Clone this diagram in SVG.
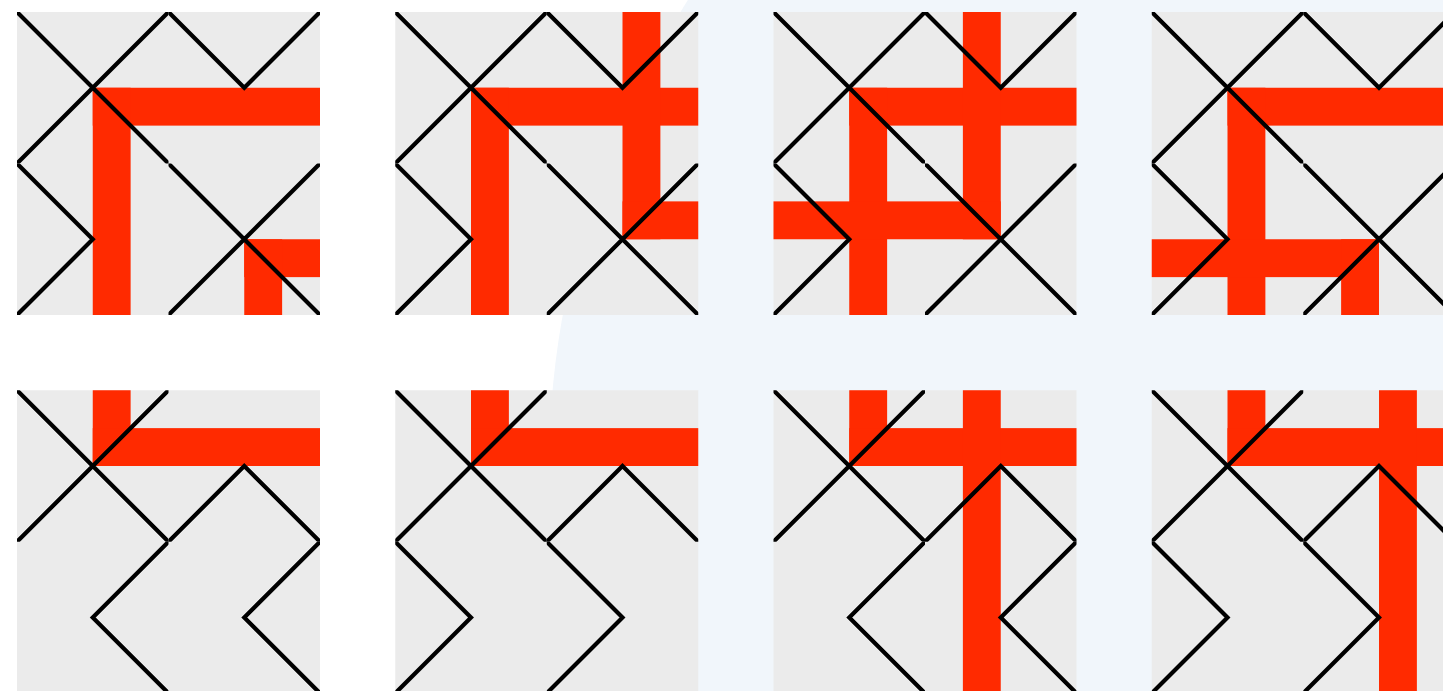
<svg xmlns="http://www.w3.org/2000/svg" width="1443" height="691" viewBox="0 0 1443 691">
<style>
.bg{fill:#ebebeb}
.red rect,.rd rect{fill:#ff2a00}
.ln{fill:none;stroke:#000;stroke-width:4.2;stroke-linecap:square;stroke-linejoin:miter}
</style>
<defs>
<symbol id="sX" viewBox="0 0 151.5 151.5" overflow="hidden"><path class="ln" d="M0 0L151.5 151.5M151.5 0L0 151.5"/></symbol>
<symbol id="sV" viewBox="0 0 151.5 151.5" overflow="hidden"><path class="ln" d="M0 0L75.75 75.75L151.5 0"/></symbol>
<symbol id="sA" viewBox="0 0 151.5 151.5" overflow="hidden"><path class="ln" d="M0 151.5L75.75 75.75L151.5 151.5"/></symbol>
<symbol id="sL" viewBox="0 0 151.5 151.5" overflow="hidden"><path class="ln" d="M0 0L75.75 75.75L0 151.5"/></symbol>
<symbol id="sR" viewBox="0 0 151.5 151.5" overflow="hidden"><path class="ln" d="M151.5 0L75.75 75.75L151.5 151.5"/></symbol>
<g id="rA" class="rd">
<rect x="75.75" y="75.75" width="227.25" height="37.875"/>
<rect x="75.75" y="75.75" width="37.875" height="227.25"/>
</g>
<g id="rB" class="rd">
<rect x="75.75" y="0" width="37.875" height="75.75"/>
<rect x="75.75" y="37.875" width="227.25" height="37.875"/>
</g>
<rect id="bgT" class="bg" width="303" height="303"/>
</defs>
<rect width="1443" height="691" fill="#ffffff"/>
<circle cx="1407" cy="468" r="858" fill="#f1f6fb"/>

<g id="tile-1" transform="translate(17 12)">
<use href="#bgT"/>
<g class="red"><use href="#rA"/>
<rect x="227.25" y="227.25" width="75.75" height="37.875"/>
<rect x="227.25" y="227.25" width="37.875" height="75.75"/></g>
<use href="#sX" x="0" y="0" width="151.5" height="151.5"/>
<use href="#sV" x="151.5" y="0" width="151.5" height="151.5"/>
<use href="#sL" x="0" y="151.5" width="151.5" height="151.5"/>
<use href="#sX" x="151.5" y="151.5" width="151.5" height="151.5"/>
</g>

<g id="tile-2" transform="translate(395.25 12)">
<use href="#bgT"/>
<g class="red"><use href="#rA"/>
<rect x="227.25" y="0" width="37.875" height="227.25"/>
<rect x="227.25" y="189.375" width="75.75" height="37.875"/></g>
<use href="#sX" x="0" y="0" width="151.5" height="151.5"/>
<use href="#sV" x="151.5" y="0" width="151.5" height="151.5"/>
<use href="#sL" x="0" y="151.5" width="151.5" height="151.5"/>
<use href="#sX" x="151.5" y="151.5" width="151.5" height="151.5"/>
</g>

<g id="tile-3" transform="translate(773.5 12)">
<use href="#bgT"/>
<g class="red"><use href="#rA"/>
<rect x="189.375" y="0" width="37.875" height="227.25"/>
<rect x="0" y="189.375" width="227.25" height="37.875"/></g>
<use href="#sX" x="0" y="0" width="151.5" height="151.5"/>
<use href="#sV" x="151.5" y="0" width="151.5" height="151.5"/>
<use href="#sL" x="0" y="151.5" width="151.5" height="151.5"/>
<use href="#sX" x="151.5" y="151.5" width="151.5" height="151.5"/>
</g>

<g id="tile-4" transform="translate(1151.75 12)">
<use href="#bgT"/>
<g class="red"><use href="#rA"/>
<rect x="0" y="227.25" width="227.25" height="37.875"/>
<rect x="189.375" y="227.25" width="37.875" height="75.75"/></g>
<use href="#sX" x="0" y="0" width="151.5" height="151.5"/>
<use href="#sV" x="151.5" y="0" width="151.5" height="151.5"/>
<use href="#sL" x="0" y="151.5" width="151.5" height="151.5"/>
<use href="#sX" x="151.5" y="151.5" width="151.5" height="151.5"/>
</g>

<g id="tile-5" transform="translate(17 390.25)">
<use href="#bgT"/>
<g class="red"><use href="#rB"/></g>
<use href="#sX" x="0" y="0" width="151.5" height="151.5"/>
<use href="#sA" x="151.5" y="0" width="151.5" height="151.5"/>
<use href="#sR" x="0" y="151.5" width="151.5" height="151.5"/>
<use href="#sR" x="151.5" y="151.5" width="151.5" height="151.5"/>
</g>

<g id="tile-6" transform="translate(395.25 390.25)">
<use href="#bgT"/>
<g class="red"><use href="#rB"/></g>
<use href="#sX" x="0" y="0" width="151.5" height="151.5"/>
<use href="#sA" x="151.5" y="0" width="151.5" height="151.5"/>
<use href="#sL" x="0" y="151.5" width="151.5" height="151.5"/>
<use href="#sL" x="151.5" y="151.5" width="151.5" height="151.5"/>
</g>

<g id="tile-7" transform="translate(773.5 390.25)">
<use href="#bgT"/>
<g class="red"><use href="#rB"/>
<rect x="189.375" y="0" width="37.875" height="303"/></g>
<use href="#sX" x="0" y="0" width="151.5" height="151.5"/>
<use href="#sA" x="151.5" y="0" width="151.5" height="151.5"/>
<use href="#sR" x="0" y="151.5" width="151.5" height="151.5"/>
<use href="#sR" x="151.5" y="151.5" width="151.5" height="151.5"/>
</g>

<g id="tile-8" transform="translate(1151.75 390.25)">
<use href="#bgT"/>
<g class="red"><use href="#rB"/>
<rect x="227.25" y="0" width="37.875" height="303"/></g>
<use href="#sX" x="0" y="0" width="151.5" height="151.5"/>
<use href="#sA" x="151.5" y="0" width="151.5" height="151.5"/>
<use href="#sL" x="0" y="151.5" width="151.5" height="151.5"/>
<use href="#sL" x="151.5" y="151.5" width="151.5" height="151.5"/>
</g>
</svg>
